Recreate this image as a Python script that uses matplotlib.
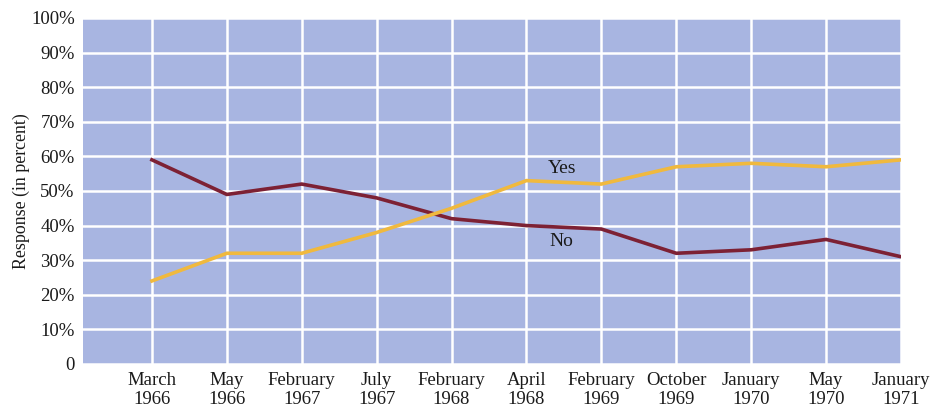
import matplotlib
matplotlib.use("Agg")
import matplotlib.pyplot as plt

categories = ["March\n1966", "May\n1966", "February\n1967", "July\n1967", "February\n1968",
              "April\n1968", "February\n1969", "October\n1969", "January\n1970", "May\n1970",
              "January\n1971"]
yes_values = [24, 32, 32, 38, 45, 53, 52, 57, 58, 57, 59]
no_values = [59, 49, 52, 48, 42, 40, 39, 32, 33, 36, 31]
y_ticks = [0, 10, 20, 30, 40, 50, 60, 70, 80, 90, 100]
y_tick_labels = ["0"] + [f"{v}%" for v in y_ticks[1:]]

plt.rcParams['font.family'] = ['Liberation Serif', 'DejaVu Serif']

fig = plt.figure(figsize=(9.35, 4.07), dpi=100)
ax = fig.add_axes([0.0888, 0.1057, 0.9636 - 0.0888, 0.9558 - 0.1057])
ax.set_facecolor("#a8b5e1")

x = list(range(len(categories)))
ax.plot(x, no_values, color="#7d2134", lw=2.6, solid_joinstyle="miter", zorder=3)
ax.plot(x, yes_values, color="#f0b93e", lw=2.6, solid_joinstyle="miter", zorder=3)

ax.set_xlim(-0.92, len(categories) - 1)
ax.set_ylim(0, 100)
ax.set_xticks(x)
ax.set_xticklabels(categories, fontsize=13.5, color="#1a1a1a", linespacing=1.1)
ax.set_yticks(y_ticks)
ax.set_yticklabels(y_tick_labels, fontsize=13.5, color="#1a1a1a")
ax.tick_params(length=0, pad=6)
ax.grid(True, color="white", lw=1.8, zorder=1)
ax.set_axisbelow(True)
for s in ax.spines.values():
    s.set_visible(False)

ax.set_ylabel("Response (in percent)", fontsize=12.9, color="#1a1a1a", labelpad=1)

ax.text(5.47, 56.6, "Yes", fontsize=14, color="#1a1a1a", ha="center", va="center", zorder=4)
ax.text(5.47, 35.3, "No", fontsize=14, color="#1a1a1a", ha="center", va="center", zorder=4)

fig.savefig("out.png", dpi=100)
